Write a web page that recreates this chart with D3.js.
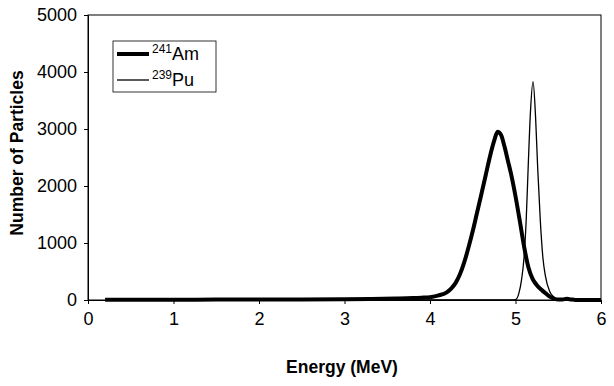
<!DOCTYPE html>
<html><head><meta charset="utf-8">
<script src="https://cdn.jsdelivr.net/npm/d3@7"></script>
<style>body{margin:0;background:#fff}svg{display:block}text{font-family:"Liberation Sans",Arial,sans-serif;fill:#000}</style>
</head><body><svg id="c" width="614" height="386"></svg>
<script>
const xTicks = [0,1,2,3,4,5,6];
const yTicks = [0,1000,2000,3000,4000,5000];
const amEnergy = [0.2,0.5,1.0,1.5,2.0,2.5,3.0,3.3,3.6,3.8,3.9,4.0,4.1,4.2,4.25,4.3,4.35,4.4,4.45,4.5,4.55,4.6,4.65,4.7,4.75,4.79,4.83,4.87,4.91,4.95,5.0,5.05,5.1,5.15,5.2,5.25,5.3,5.35,5.4,5.45,5.5,5.55,5.6,5.65,5.7,6.0];
const amCounts = [5,5,6,7,8,10,14,18,25,33,40,50,80,140,205,300,450,660,920,1210,1530,1850,2180,2510,2790,2950,2900,2700,2450,2200,1820,1390,940,580,370,260,185,120,60,25,8,10,20,10,2,0];
const puEnergy = [0.2,1.0,2.0,3.0,4.0,4.97,5.0,5.04,5.07,5.1,5.125,5.15,5.175,5.205,5.235,5.26,5.29,5.32,5.35,5.4,5.45,5.5,5.6,6.0];
const puCounts = [0,0,0,0,0,0,5,120,350,750,1400,2400,3300,3830,3200,2300,1400,750,420,150,50,10,0,0];
const seriesNames = ["241", "239"];

const svg = d3.select("#c");
const L=88, R=601, T=15, B=300;
const x = d3.scaleLinear().domain([0,6]).range([L,R]);
const y = d3.scaleLinear().domain([0,5000]).range([B,T]);

svg.append("rect").attr("x",L).attr("y",T).attr("width",R-L).attr("height",B-T)
  .attr("fill","none").attr("stroke","#000").attr("stroke-width",1);

const xa = svg.append("g").attr("transform",`translate(0,${B})`)
  .call(d3.axisBottom(x).tickValues(xTicks).tickSize(4).tickPadding(8).tickFormat(d3.format("d")));
const ya = svg.append("g").attr("transform",`translate(${L},0)`)
  .call(d3.axisLeft(y).tickValues(yTicks).tickSize(4).tickPadding(7).tickFormat(d3.format("d")));
[xa,ya].forEach(a=>{a.select(".domain").attr("stroke","#000");a.selectAll("line").attr("stroke","#000");
  a.selectAll("text").style("font-size","18px").style("font-family","Liberation Sans, Arial, sans-serif");});

const line = d3.line().x(d=>x(d[0])).y(d=>y(d[1])).curve(d3.curveMonotoneX);
svg.append("path").datum(puEnergy.map((e,i)=>[e,puCounts[i]]))
  .attr("d",line).attr("fill","none").attr("stroke","#000").attr("stroke-width",1.3);
svg.append("path").datum(amEnergy.map((e,i)=>[e,amCounts[i]]))
  .attr("d",line).attr("fill","none").attr("stroke","#000").attr("stroke-width",4).attr("stroke-linejoin","round");

svg.append("text").attr("x",342).attr("y",373).attr("text-anchor","middle")
  .style("font-size","17.5px").style("font-weight","bold").text("Energy (MeV)");
svg.append("text").attr("transform",`translate(23,153) rotate(-90)`).attr("text-anchor","middle")
  .style("font-size","17.5px").style("font-weight","bold").text("Number of Particles");

const lg = svg.append("g");
lg.append("rect").attr("x",113).attr("y",41).attr("width",103).attr("height",51)
  .attr("fill","#fff").attr("stroke","#000").attr("stroke-width",0.8);
const items = [{sup:seriesNames[0],name:"Am",w:4,y:54},{sup:seriesNames[1],name:"Pu",w:1.3,y:80}];
items.forEach(it=>{
  lg.append("line").attr("x1",117).attr("x2",149).attr("y1",it.y).attr("y2",it.y).attr("stroke","#000").attr("stroke-width",it.w);
  const t = lg.append("text").attr("x",152).attr("y",it.y+6).style("font-size","18px");
  t.append("tspan").attr("dy",-7).style("font-size","12px").text(it.sup);
  t.append("tspan").attr("dy",7).text(it.name);
});
</script></body></html>
